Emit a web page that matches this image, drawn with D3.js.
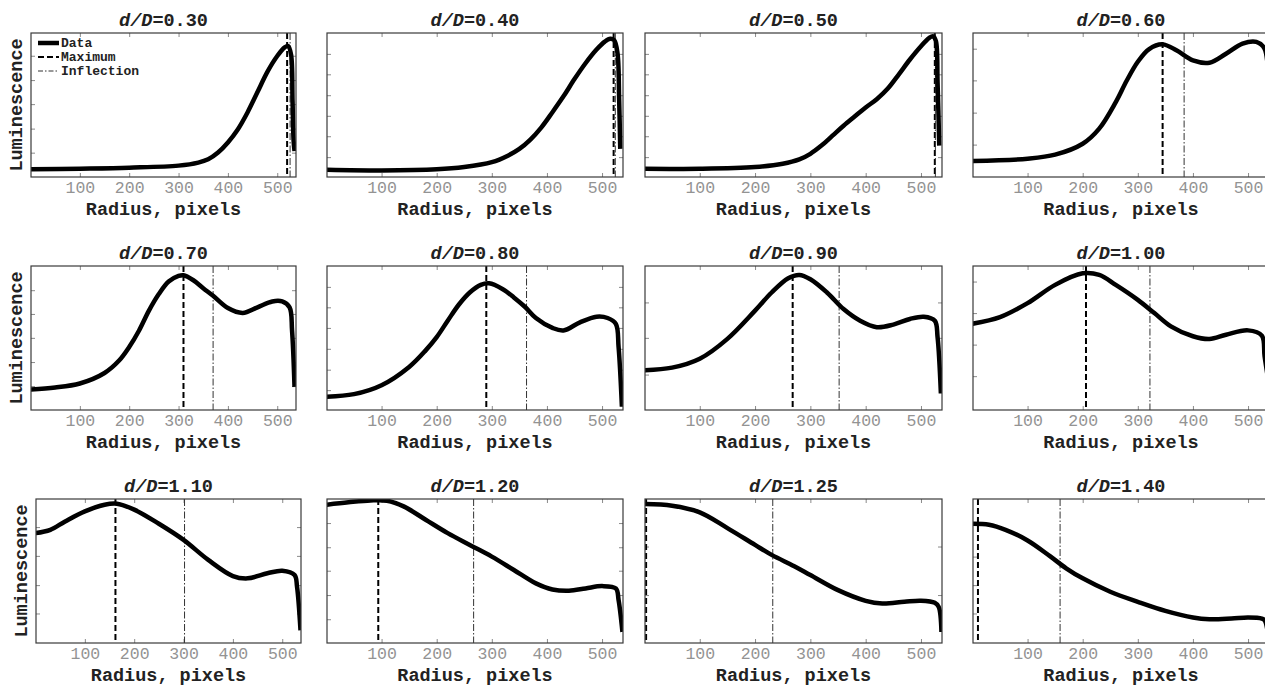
<!DOCTYPE html>
<html>
<head>
<meta charset="utf-8">
<script src="https://cdn.jsdelivr.net/npm/d3@7"></script>
<style>
  body { margin: 0; background: #fff; }
  svg { display: block; }
  text { font-family: "Liberation Mono", "Courier New", monospace; }
</style>
</head>
<body>
<div id="chart"></div>
<script>
  // panel titles, d/D
  const ratios = ["0.30", "0.40", "0.50", "0.60", "0.70", "0.80", "0.90", "1.00", "1.10", "1.20", "1.25", "1.40"];

  // radius samples (pixels) for each panel
  const radius = [
    [0, 100, 200, 300, 340, 360, 380, 400, 420, 440, 460, 480, 500, 515, 522, 528, 531, 533, 535],
    [0, 100, 200, 250, 300, 330, 350, 370, 390, 410, 430, 450, 470, 490, 505, 515, 522, 528, 531, 533],
    [0, 100, 200, 250, 280, 300, 320, 340, 360, 380, 400, 420, 440, 460, 480, 500, 515, 522, 527, 530, 533],
    [0, 100, 150, 200, 230, 260, 280, 300, 320, 345, 370, 400, 430, 460, 490, 515, 530, 537],
    [0, 50, 100, 150, 180, 200, 220, 240, 260, 280, 300, 310, 330, 350, 370, 400, 430, 460, 490, 510, 525, 530, 535],
    [0, 50, 100, 150, 180, 200, 220, 240, 260, 280, 295, 320, 340, 360, 380, 410, 430, 460, 490, 510, 525, 530, 536],
    [0, 50, 100, 150, 200, 230, 260, 280, 300, 330, 360, 390, 420, 450, 480, 505, 525, 530, 536],
    [0, 50, 100, 150, 200, 230, 260, 300, 330, 360, 400, 430, 460, 500, 525, 530, 537],
    [0, 30, 60, 100, 140, 165, 200, 250, 300, 350, 400, 430, 470, 500, 525, 530, 537],
    [0, 40, 80, 110, 140, 180, 220, 260, 300, 340, 380, 410, 440, 470, 500, 525, 530, 537],
    [0, 50, 100, 150, 200, 230, 270, 300, 350, 400, 430, 470, 500, 525, 532, 537],
    [0, 30, 60, 100, 140, 170, 200, 250, 300, 350, 400, 430, 470, 500, 525, 530, 537]
  ];

  // luminescence (arbitrary units) at those radii
  const luminance = [
    [5.3, 5.8, 6.5, 7.9, 10, 12.3, 17, 24, 33, 45, 59, 73, 84, 90, 91, 85, 53, 26, 18],
    [5.1, 4.6, 5.3, 6.9, 10.3, 15, 19.5, 26, 34.5, 45, 56, 68, 79, 88.5, 94, 96, 95, 86, 54, 19.5],
    [5.7, 5.7, 6.9, 9.2, 12.2, 16.1, 21.8, 28.7, 35.6, 42, 48.3, 54, 61.4, 71.3, 81.6, 90.8, 96.6, 97.7, 94.3, 65.5, 21.8],
    [11.1, 12.7, 15.5, 23.1, 33.6, 52, 67, 80, 88.7, 92.1, 88, 81, 79.4, 85.6, 92.6, 93.8, 89, 22],
    [14.3, 15.6, 18.4, 25.7, 34.5, 43.7, 55.2, 69, 80.5, 89.2, 93.1, 93.6, 90.1, 84.6, 79.3, 70.8, 67.4, 71.3, 75.4, 75.4, 71.3, 55.2, 16.1],
    [9.2, 11, 17.2, 29.9, 41.4, 50.6, 62, 73.1, 81.6, 86.9, 88, 83.9, 78.2, 71.7, 63.9, 57, 55.2, 60.9, 64.8, 63.9, 59.8, 43.7, 2.3],
    [27.6, 29.4, 35.6, 49.4, 69, 81.6, 91.5, 93.8, 90.8, 81.6, 70.1, 62, 57.5, 59.3, 63.2, 64.8, 62, 50.6, 11.5],
    [59.9, 64.5, 74.2, 86.9, 94.9, 93.8, 86.9, 76.5, 67.3, 58.1, 51.2, 49.3, 52.3, 55.3, 51.6, 37.3, 20],
    [76.3, 78.6, 84.4, 91.4, 96, 96.7, 92.6, 82.8, 71.6, 57.7, 46.5, 44.9, 48.4, 50.2, 47.2, 39, 8.8],
    [96, 97.7, 99, 98.8, 94.9, 85.6, 76.3, 68.1, 60, 50.7, 41.4, 37.2, 36.3, 37.9, 39.5, 37.9, 29.8, 7.7],
    [96.5, 95.3, 90.7, 79.8, 68.1, 61.2, 53.5, 47.2, 36.7, 29.3, 27.4, 28.6, 29.3, 27.9, 25.1, 7.7],
    [82.8, 82.1, 78.6, 71.2, 60.5, 51.9, 44.9, 35.6, 28.6, 22.3, 17.7, 16.5, 17, 17.7, 17, 15.8, 5]
  ];

  // radius of the maximum and of the inflection point
  const maxima = [520, 521, 525, 345, 310, 290, 268, 206, 162, 94, 3, 10];
  const inflections = [526, 524, 526, 384, 370, 363, 352, 322, 302, 267, 232, 159];

  // unlabelled luminescence ticks per panel
  const yTicks = [
    [16.9, 33.6, 50.6, 67.3, 84.2],
    [13.8, 28.3, 42.5, 56.8, 71.3, 85.5],
    [13.8, 28.3, 42.5, 56.8, 71.3, 85.5],
    [22.5, 44.7, 67.1, 89.1],
    [16.6, 33.3, 50.1, 66.7, 83.2],
    [13.8, 28, 42.5, 57, 71.3, 85.5],
    [24.6, 50.1, 74.7],
    [23.5, 45.4, 67.3, 89.2],
    [20.5, 40.2, 60.5, 80.5],
    [16.5, 33.3, 50.2, 66.5, 83.3],
    [33.3, 67],
    [20.5, 40.2, 60]
  ];
  const xTicks = [100, 200, 300, 400, 500];
  const legendItems = ["Data", "Maximum", "Inflection"];

  // layout
  const W = 1265, H = 685;
  const colLeft = [31, 327, 645, 973];
  const colRight = [296, 623, 942, 1269];
  const rowTop = [33, 266, 499];
  const frameH = 144;

  const svg = d3.select("#chart").append("svg")
      .attr("width", W)
      .attr("height", H);

  const dashMax = "6,3";
  const dashInfl = "7,2,1.5,2";

  ratios.forEach((ratio, i) => {
    const row = Math.floor(i / 4), col = i % 4;
    const shift = (col === 0 && row === 2) ? 5 : 0;
    const x0 = colLeft[col] + shift, x1 = colRight[col] + shift;
    const y0 = rowTop[row], y1 = y0 + frameH;

    const x = d3.scaleLinear().domain([1, 538]).range([x0, x1]);
    const y = d3.scaleLinear().domain([0, 100]).range([y1, y0]);

    const g = svg.append("g");
    const clipId = "clip" + i;
    g.append("clipPath").attr("id", clipId)
      .append("rect").attr("x", x0).attr("y", y0).attr("width", x1 - x0).attr("height", frameH);

    // inward ticks on all four sides
    const tickColor = "#8a8a8a";
    g.append("g").attr("transform", `translate(0,${y1})`)
      .call(d3.axisBottom(x).tickValues(xTicks).tickSize(-4).tickPadding(7).tickFormat(d3.format("d")))
      .call(a => a.select(".domain").remove())
      .call(a => a.selectAll("line").attr("stroke", tickColor))
      .call(a => a.selectAll("text")
        .attr("fill", "#939393").attr("font-size", 16.5)
        .attr("font-family", "Liberation Mono, monospace")
        .attr("dy", "0.55em"));
    g.append("g").attr("transform", `translate(0,${y0})`)
      .call(d3.axisTop(x).tickValues(xTicks).tickSize(-4).tickFormat(""))
      .call(a => a.select(".domain").remove())
      .call(a => a.selectAll("line").attr("stroke", tickColor));
    g.append("g").attr("transform", `translate(${x0},0)`)
      .call(d3.axisLeft(y).tickValues(yTicks[i]).tickSize(-4).tickFormat(""))
      .call(a => a.select(".domain").remove())
      .call(a => a.selectAll("line").attr("stroke", tickColor));
    g.append("g").attr("transform", `translate(${x1},0)`)
      .call(d3.axisRight(y).tickValues(yTicks[i]).tickSize(-4).tickFormat(""))
      .call(a => a.select(".domain").remove())
      .call(a => a.selectAll("line").attr("stroke", tickColor));

    const plot = g.append("g").attr("clip-path", `url(#${clipId})`);

    // maximum and inflection markers
    plot.append("line")
      .attr("x1", x(maxima[i])).attr("x2", x(maxima[i]))
      .attr("y1", y0).attr("y2", y1)
      .attr("stroke", "#000").attr("stroke-width", 2)
      .attr("stroke-dasharray", dashMax);
    plot.append("line")
      .attr("x1", x(inflections[i])).attr("x2", x(inflections[i]))
      .attr("y1", y0).attr("y2", y1)
      .attr("stroke", "#333").attr("stroke-width", 1)
      .attr("stroke-dasharray", dashInfl);

    const pts = radius[i].map((r, k) => [r, luminance[i][k]]);
    const line = d3.line().x(d => x(d[0])).y(d => y(d[1])).curve(d3.curveCatmullRom.alpha(0.5));
    plot.append("path")
      .attr("d", line(pts))
      .attr("fill", "none")
      .attr("stroke", "#000")
      .attr("stroke-width", 4.5)
      .attr("stroke-linejoin", "round");

    // frame
    g.append("rect")
      .attr("x", x0).attr("y", y0).attr("width", x1 - x0).attr("height", frameH)
      .attr("fill", "none").attr("stroke", "#3a3a3a").attr("stroke-width", 1.2);

    const cx = (x0 + x1) / 2;
    const title = g.append("text")
      .attr("x", cx).attr("y", y0 - 7.5)
      .attr("text-anchor", "middle")
      .attr("font-size", 18.5).attr("font-weight", "bold").attr("fill", "#222");
    title.append("tspan").attr("font-style", "italic").text("d/D");
    title.append("tspan").text("=" + ratio);

    g.append("text")
      .attr("x", cx).attr("y", y1 + 37.5)
      .attr("text-anchor", "middle")
      .attr("font-size", 18.5).attr("font-weight", "bold").attr("fill", "#222")
      .text("Radius, pixels");

    if (col === 0) {
      g.append("text")
        .attr("transform", `translate(${x0 - 9},${(y0 + y1) / 2}) rotate(-90)`)
        .attr("text-anchor", "middle")
        .attr("font-size", 18.5).attr("font-weight", "bold").attr("fill", "#222")
        .text("Luminescence");
    }

    if (i === 0) {
      const leg = g.append("g");
      legendItems.forEach((name, k) => {
        const ly = y0 + 10 + k * 14;
        leg.append("line")
          .attr("x1", x0 + 7).attr("x2", x0 + 28)
          .attr("y1", ly).attr("y2", ly)
          .attr("stroke", k === 2 ? "#333" : "#000")
          .attr("stroke-width", [4.5, 2, 1][k])
          .attr("stroke-dasharray", [null, "6,3", "5,2,1.5,2"][k]);
        leg.append("text")
          .attr("x", x0 + 30).attr("y", ly + 4)
          .attr("font-size", 13).attr("font-weight", "bold").attr("fill", "#222")
          .text(name);
      });
    }
  });
</script>
</body>
</html>
